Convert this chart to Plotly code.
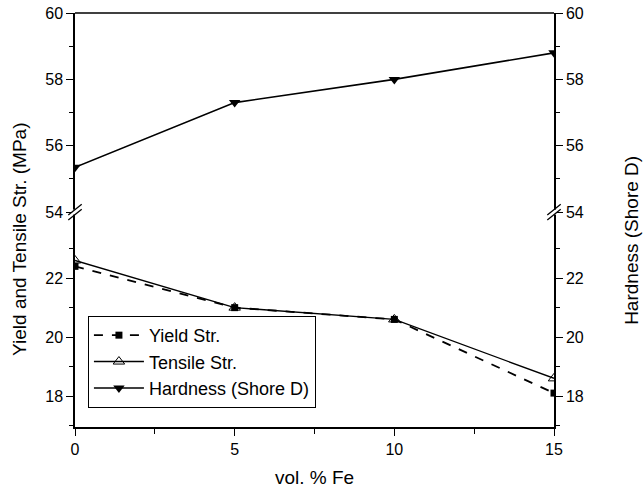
import plotly.graph_objects as go

x_fe = [0, 5, 10, 15]
yield_str = [22.4, 21.0, 20.6, 18.1]
tensile_str = [22.6, 21.0, 20.6, 18.6]
hardness = [55.35, 57.3, 58.0, 58.8]

lower_ticks = [18, 20, 22]
lower_minor = [17, 19, 21, 23]
upper_ticks = [54, 56, 58, 60]
upper_minor = [55, 57, 59]
x_ticks = [0, 5, 10, 15]
x_minor = [2.5, 7.5, 12.5]

FONT = "Liberation Sans, Arial, sans-serif"
brk = 0.519

fig = go.Figure()
fig.add_trace(go.Scatter(x=x_fe, y=yield_str, name="Yield Str.", mode="lines+markers",
                         line=dict(color="black", width=1.8, dash="dash"),
                         marker=dict(symbol="square", size=7, color="black"),
                         xaxis="x", yaxis="y"))
fig.add_trace(go.Scatter(x=x_fe, y=tensile_str, name="Tensile Str.", mode="lines+markers",
                         line=dict(color="black", width=1.4),
                         marker=dict(symbol="triangle-up-open", size=10, color="black", line=dict(width=1)),
                         xaxis="x", yaxis="y"))
fig.add_trace(go.Scatter(x=x_fe, y=hardness, name="Hardness (Shore D)", mode="lines+markers",
                         line=dict(color="black", width=1.6),
                         marker=dict(symbol="triangle-down", size=10, color="black"),
                         xaxis="x", yaxis="y4"))

common = dict(showline=True, linecolor="black", linewidth=1.5, ticks="outside", ticklen=7,
              tickwidth=1.2, tickcolor="black", showgrid=False, zeroline=False,
              automargin=False,
              tickfont=dict(size=16, color="black", family=FONT))

fig.update_layout(
    width=644, height=493,
    margin=dict(l=75, r=90, t=13, b=66),
    paper_bgcolor="white", plot_bgcolor="white",
    font=dict(family=FONT, color="black"),
    showlegend=True,
    legend=dict(x=0.027, y=0.046, xanchor="left", yanchor="bottom",
                bordercolor="black", borderwidth=1, bgcolor="white",
                font=dict(size=18, family=FONT, color="black"),
                tracegroupgap=0, itemwidth=50, traceorder="normal"),
    xaxis=dict(range=[0, 15], tickvals=x_ticks, domain=[0, 1], anchor="y",
               minor=dict(tickvals=x_minor, ticklen=5, tickcolor="black", ticks="outside"),
               **common),
    yaxis=dict(domain=[0, brk], range=[16.95, 24.24], tickvals=lower_ticks, anchor="x",
               minor=dict(tickvals=lower_minor, ticklen=4, tickcolor="black", ticks="outside"),
               **common),
    yaxis2=dict(domain=[brk, 1], range=[54, 60], tickvals=upper_ticks, anchor="x",
                minor=dict(tickvals=upper_minor, ticklen=4, tickcolor="black", ticks="outside"),
                **common),
    yaxis3=dict(domain=[0, brk], range=[16.95, 24.24], tickvals=lower_ticks, anchor="x",
                overlaying="y", side="right",
                minor=dict(tickvals=lower_minor, ticklen=4, tickcolor="black", ticks="outside"),
                **common),
    yaxis4=dict(domain=[brk, 1], range=[54, 60], tickvals=upper_ticks, anchor="x",
                overlaying="y2", side="right",
                minor=dict(tickvals=upper_minor, ticklen=4, tickcolor="black", ticks="outside"),
                **common),
)

# empty helper traces so the left-upper and right-lower axes are drawn
fig.add_trace(go.Scatter(x=[None], y=[None], yaxis="y2", showlegend=False, hoverinfo="skip"))
fig.add_trace(go.Scatter(x=[None], y=[None], yaxis="y3", showlegend=False, hoverinfo="skip"))

# top frame line
fig.add_shape(type="line", xref="paper", yref="paper", x0=0, x1=1, y0=1, y1=1,
              line=dict(color="black", width=1.5))

# axis break marks
dx, dy = 0.014, 0.013
for xp in (0, 1):
    fig.add_shape(type="rect", xref="paper", yref="paper", x0=xp - 0.006, x1=xp + 0.006,
                  y0=brk - 0.006, y1=brk + 0.006, fillcolor="white", line=dict(width=0))
    for off in (-0.006, 0.006):
        fig.add_shape(type="line", xref="paper", yref="paper",
                      x0=xp - dx, x1=xp + dx, y0=brk + off - dy, y1=brk + off + dy,
                      line=dict(color="black", width=1.3))

fig.add_annotation(text="Yield and Tensile Str. (MPa)", xref="paper", yref="paper",
                   x=-0.1148, y=0.452, xanchor="center", yanchor="middle",
                   textangle=-90, showarrow=False,
                   font=dict(size=19, family=FONT, color="black"))
fig.add_annotation(text="Hardness (Shore D)", xref="paper", yref="paper",
                   x=1.1628, y=0.452, xanchor="center", yanchor="middle",
                   textangle=-90, showarrow=False,
                   font=dict(size=19, family=FONT, color="black"))
fig.add_annotation(text="vol. % Fe", xref="paper", yref="paper",
                   x=0.5, y=-0.123, xanchor="center", yanchor="middle", showarrow=False,
                   font=dict(size=19, family=FONT, color="black"))

fig.write_html("out.html", config={"displayModeBar": False},
               post_script="document.body.style.margin='0';")
